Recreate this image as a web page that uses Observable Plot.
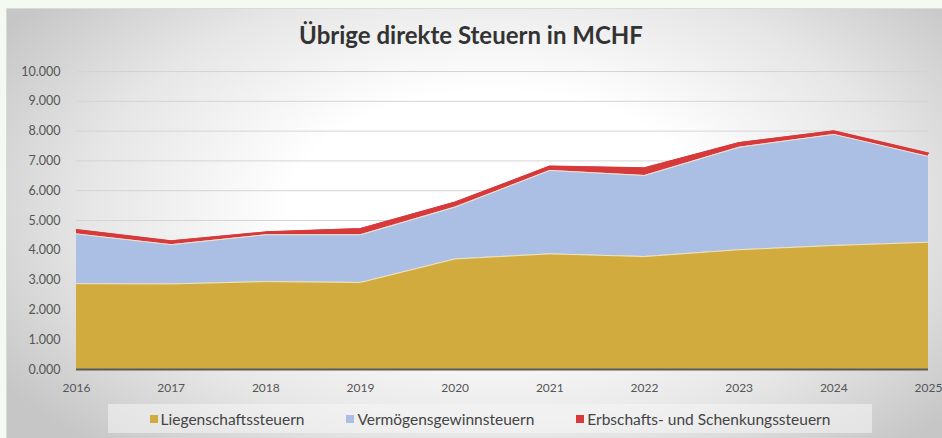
<!DOCTYPE html>
<html>
<head>
<meta charset="utf-8">
<script src="https://cdn.jsdelivr.net/npm/d3@7"></script>
<script src="https://cdn.jsdelivr.net/npm/@observablehq/plot@0.6"></script>
<style>
  html, body { margin: 0; padding: 0; background: #f4f9f2; }
  #frame { position: relative; width: 942px; height: 438px; overflow: hidden; }
  #panel {
    position: absolute; left: 6px; top: 8px; width: 940px; height: 440px;
    background: radial-gradient(ellipse 62% 75% at 52% 45%, #ffffff 35%, #e6e6e6 70%, #c6c6c6 100%);
    border-top: 1px solid #d8dcd6; border-left: 1px solid #d8dcd6;
  }
  #title {
    position: absolute; left: 0; top: 20px; width: 942px; text-align: center;
    font-family: Lato, "Open Sans", sans-serif; font-weight: 700; font-size: 24px; color: #333;
  }
  #chart { position: absolute; left: 0; top: 60px; }
  #legend {
    position: absolute; left: 108px; top: 404px; width: 764px; height: 29px;
    background: rgba(245,245,245,0.55);
    display: flex; justify-content: center; align-items: center; gap: 42px;
    font-family: Lato, "Open Sans", sans-serif; font-size: 15.5px; color: #444;
  }
  .item { display: flex; align-items: center; }
  .sw { width: 8px; height: 8px; margin-right: 3px; display: inline-block; }
</style>
</head>
<body>
<div id="frame">
  <div id="panel"></div>
  <div id="title">Übrige direkte Steuern in MCHF</div>
  <div id="chart"></div>
  <div id="legend"></div>
</div>
<script>
const years = [2016, 2017, 2018, 2019, 2020, 2021, 2022, 2023, 2024, 2025];
const seriesNames = ["Liegenschaftssteuern", "Vermögensgewinnsteuern", "Erbschafts- und Schenkungssteuern"];
const liegenschaft = [2880, 2870, 2950, 2920, 3710, 3880, 3790, 4020, 4160, 4270];
const vermoegen    = [1670, 1320, 1570, 1600, 1740, 2800, 2720, 3440, 3730, 2880];
const erbschaft    = [140, 120, 90, 200, 160, 140, 250, 150, 110, 110];
const colors = ["#d1ab3e", "#aabfe3", "#d8393b"];
const yTicks = [0, 1000, 2000, 3000, 4000, 5000, 6000, 7000, 8000, 9000, 10000];

const values = [liegenschaft, vermoegen, erbschaft];
const rows = [];
const cum = years.map(() => 0);
seriesNames.forEach((s, si) => {
  years.forEach((yr, i) => {
    const y1 = cum[i];
    const y2 = y1 + values[si][i];
    cum[i] = y2;
    rows.push({ year: yr, series: s, y1, y2 });
  });
});

const chart = Plot.plot({
  width: 942,
  height: 340,
  marginLeft: 76,
  marginRight: 14,
  marginTop: 11,
  marginBottom: 31,
  style: { background: "transparent", fontFamily: "Lato, 'Open Sans', sans-serif" },
  x: { type: "linear", domain: [2016, 2025] },
  y: { domain: [0, 10000] },
  color: { domain: seriesNames, range: colors },
  marks: [
    Plot.gridY(yTicks, { stroke: "#d4d4d4", strokeOpacity: 1, strokeWidth: 1 }),
    Plot.areaY(rows, { x: "year", y1: "y1", y2: "y2", z: "series", fill: "series", fillOpacity: 1 }),
    Plot.lineY(rows, { x: "year", y: "y2", z: "series", stroke: "series", strokeWidth: 1.5, filter: d => d.series === seriesNames[2] }),
    Plot.lineY(rows, { x: "year", y: "y2", z: "series", stroke: "#f3ead0", strokeWidth: 1, strokeOpacity: 0.9, filter: d => d.series !== seriesNames[2] }),
    Plot.ruleY([0], { stroke: "#5a5a5a", strokeWidth: 2 }),
    Plot.axisY(yTicks, { tickSize: 0, tickPadding: 16, tickFormat: d => (d / 1000).toFixed(3), fontSize: 12.5, fill: "#555", label: null }),
    Plot.axisX(years, { tickSize: 0, tickPadding: 14, tickFormat: d => String(d), fontSize: 12, fill: "#555", label: null })
  ]
});
document.getElementById("chart").appendChild(chart);

const legend = document.getElementById("legend");
seriesNames.forEach((s, i) => {
  const it = document.createElement("div");
  it.className = "item";
  const sw = document.createElement("span");
  sw.className = "sw";
  sw.style.background = colors[i];
  it.appendChild(sw);
  it.appendChild(document.createTextNode(s));
  legend.appendChild(it);
});
</script>
</body>
</html>
